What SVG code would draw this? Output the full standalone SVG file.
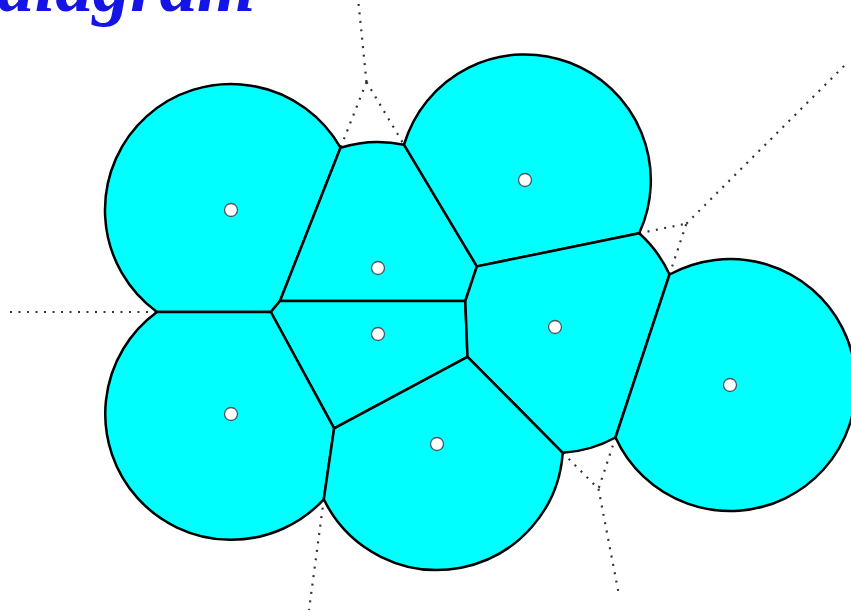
<svg xmlns="http://www.w3.org/2000/svg" width="851" height="612" viewBox="0 0 851 612">
<style>
.cell{fill:#00ffff;stroke:#000;stroke-width:2.5;stroke-linejoin:round}
.site{fill:#fff;stroke:#4a5560;stroke-width:1.3}
.dot{fill:none;stroke:#333;stroke-width:2.2;stroke-dasharray:2 6.5}
.title{font-family:"Liberation Serif",serif;font-style:italic;font-weight:bold;font-size:75px;fill:#1414e6}
</style>
<rect width="851" height="612" fill="#fff"/>
<text class="title" x="-3" y="11">diagram</text>
<g id="connectors">
<line class="dot" x1="366.5" y1="82" x2="358.6" y2="4"/>
<line class="dot" x1="366.5" y1="82" x2="340.5" y2="147.7"/>
<line class="dot" x1="366.5" y1="82" x2="404" y2="144.7"/>
<line class="dot" x1="10" y1="312" x2="157" y2="312"/>
<line class="dot" x1="323.8" y1="499.3" x2="309" y2="610"/>
<line class="dot" x1="639.2" y1="233.3" x2="686.4" y2="223.6"/>
<line class="dot" x1="669.5" y1="274.5" x2="686.4" y2="223.6"/>
<line class="dot" x1="686.4" y1="223.6" x2="845" y2="65"/>
<line class="dot" x1="562.7" y1="452.8" x2="598.5" y2="488.8"/>
<line class="dot" x1="615.5" y1="437.5" x2="598.5" y2="488.8"/>
<line class="dot" x1="598.5" y1="488.8" x2="619" y2="595"/>
</g>
<g id="cellA"><path class="cell" d="M157,312 A126,126 0 1 1 340.5,147.7 L280,301 L270.8,312 Z"/><circle class="site" cx="231" cy="210" r="6.5"/></g>
<g id="cellB"><path class="cell" d="M340.5,147.7 A126,126 0 0 1 404,144.7 L476.9,266.4 L465.3,301 L280,301 Z"/><circle class="site" cx="378" cy="268" r="6.5"/></g>
<g id="cellC"><path class="cell" d="M404,144.7 A126,126 0 1 1 639.2,233.3 L476.9,266.4 Z"/><circle class="site" cx="525" cy="180" r="6.5"/></g>
<g id="cellD"><path class="cell" d="M280,301 L465.3,301 L467.5,356.8 L334.1,428.4 L270.8,312 Z"/><circle class="site" cx="378" cy="334" r="6.5"/></g>
<g id="cellE"><path class="cell" d="M476.9,266.4 L639.2,233.3 A126,126 0 0 1 669.5,274.5 L615.5,437.5 A126,126 0 0 1 562.7,452.8 L467.5,356.8 L465.3,301 Z"/><circle class="site" cx="555" cy="327" r="6.5"/></g>
<g id="cellF"><path class="cell" d="M669.5,274.5 A126,126 0 1 1 615.5,437.5 Z"/><circle class="site" cx="730" cy="385" r="6.5"/></g>
<g id="cellG"><path class="cell" d="M323.8,499.3 A126,126 0 1 1 157,312 L270.8,312 L334.1,428.4 Z"/><circle class="site" cx="231" cy="414" r="6.5"/></g>
<g id="cellH"><path class="cell" d="M562.7,452.8 A126,126 0 0 1 323.8,499.3 L334.1,428.4 L467.5,356.8 Z"/><circle class="site" cx="437" cy="444" r="6.5"/></g>
</svg>
